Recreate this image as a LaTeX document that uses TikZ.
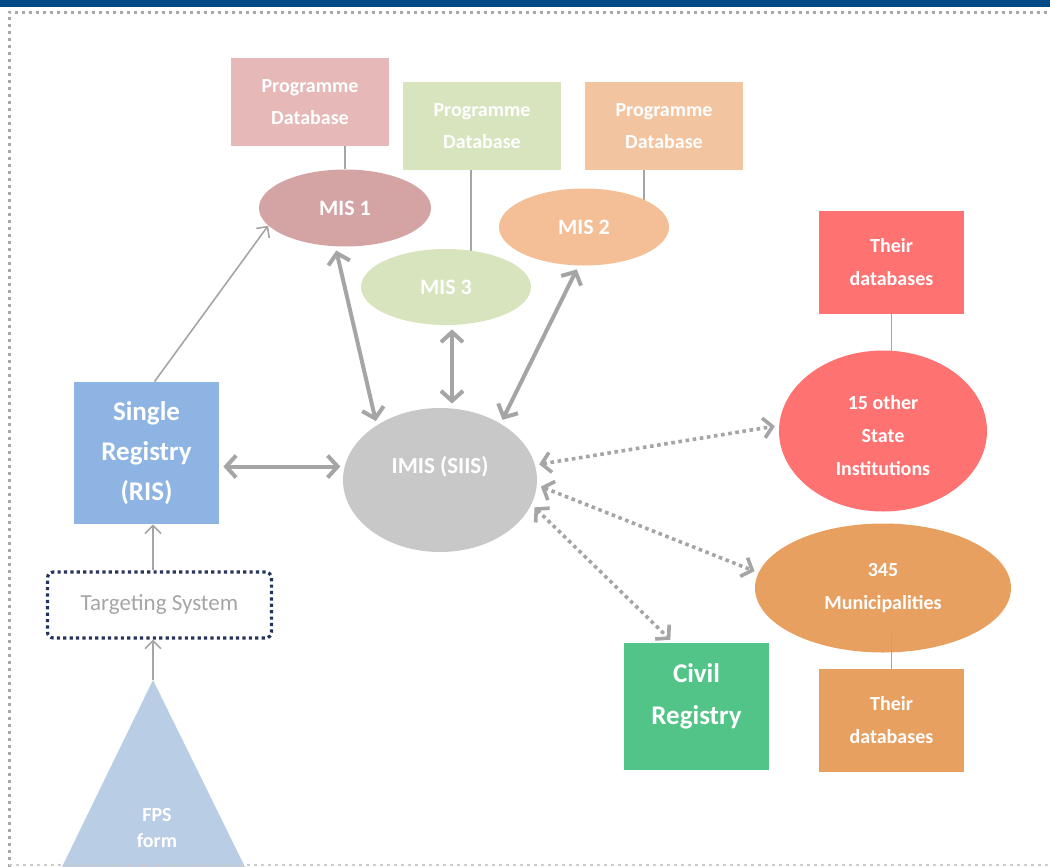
\documentclass[tikz,border=0pt]{standalone}
\usepackage{fontspec}
\setmainfont{Carlito}
\usetikzlibrary{shapes.geometric,arrows.meta,backgrounds}

\definecolor{topblue}{RGB}{0,74,135}
\definecolor{framegray}{RGB}{168,168,168}
\definecolor{arrowgray}{RGB}{165,165,165}
\definecolor{dbpink}{RGB}{230,184,183}
\definecolor{mispink}{RGB}{212,164,164}
\definecolor{dbgreen}{RGB}{215,228,189}
\definecolor{dborange}{RGB}{242,196,160}
\definecolor{misorange}{RGB}{244,190,150}
\definecolor{risblue}{RGB}{141,180,226}
\definecolor{fpsblue}{RGB}{185,205,229}
\definecolor{targetnavy}{RGB}{37,52,92}
\definecolor{imisgray}{RGB}{200,200,200}
\definecolor{statered}{RGB}{255,114,114}
\definecolor{munorange}{RGB}{232,160,96}
\definecolor{civilgreen}{RGB}{82,196,136}

\tikzset{
  box/.style={rectangle, inner sep=0pt, align=center, text=white},
  oval/.style={ellipse, inner sep=0pt, align=center, text=white},
  link/.style={draw=arrowgray, line width=0.75pt},
  thinarrow/.style={draw=arrowgray, line width=0.8pt, -{Straight Barb[length=4pt,width=8pt]}},
  bigarrow/.style={draw=arrowgray, line width=2pt,
    {Straight Barb[length=5pt,width=11pt]}-{Straight Barb[length=5pt,width=11pt]},
    shorten <=2pt, shorten >=2pt},
  dotarrow/.style={draw=arrowgray, line width=1.8pt, dash pattern=on 1.8pt off 1.8pt,
    {Straight Barb[length=4.5pt,width=10pt]}-{Straight Barb[length=4.5pt,width=10pt]},
    shorten <=2pt, shorten >=2pt}
}

\begin{document}
\begin{tikzpicture}[x=0.5pt, y=-0.5pt]
\useasboundingbox (0,0) rectangle (1050,867);

\fill[topblue] (0,0) rectangle (1050,7);

% FPS form
\fill[fpsblue] (153,680) -- (62,867) -- (245,867) -- cycle;
\coordinate (fpstop) at (153,680);
\node[box, font=\bfseries\fontsize{10}{13}\selectfont] (fps) at (157,828) {FPS\\form};

% frame
\draw[framegray, line width=1.5pt, dash pattern=on 1.5pt off 2pt] (9,867) -- (9,12) -- (1050,12);
\draw[framegray!60, line width=1pt, dash pattern=on 1.5pt off 2pt] (9,865) -- (1050,865);

% programme databases and MIS
\foreach \name/\x/\y/\col in {db1/310/102/dbpink, db2/482/126/dbgreen, db3/664/126/dborange}
  \node[box, fill=\col, minimum width=79pt, minimum height=44pt,
        font=\bfseries\fontsize{10}{16}\selectfont] (\name) at (\x,\y) {Programme\\Database};

\node[oval, fill=mispink, minimum width=86pt, minimum height=38.5pt,
      font=\bfseries\fontsize{11}{13}\selectfont] (mis1) at (345,208) {MIS 1};
\node[oval, fill=dbgreen, minimum width=85pt, minimum height=38pt,
      font=\bfseries\fontsize{11}{13}\selectfont] (mis3) at (446,287) {MIS 3};
\node[oval, fill=misorange, minimum width=85pt, minimum height=38.5pt,
      font=\bfseries\fontsize{11}{13}\selectfont] (mis2) at (584,227) {MIS 2};

% left column
\node[box, fill=risblue, minimum width=72.5pt, minimum height=71pt,
      font=\bfseries\fontsize{13.5}{20}\selectfont] (sr) at (146.5,453) {Single\\Registry\\(RIS)};
\node[rectangle, draw=targetnavy, line width=1.6pt, dash pattern=on 1.6pt off 1.6pt,
      rounded corners=3pt, minimum width=112pt, minimum height=33pt, text=arrowgray,
      font=\fontsize{11.5}{13}\selectfont] (target) at (159.5,605) {Targeting System};

% centre
\node[oval, fill=imisgray, minimum width=97pt, minimum height=72pt, text height=8pt, text depth=15pt,
      font=\bfseries\fontsize{11.5}{13}\selectfont] (imis) at (440,480) {IMIS (SIIS)};

% right side
\node[box, fill=statered, minimum width=72.5pt, minimum height=51.5pt,
      font=\bfseries\fontsize{10}{16.5}\selectfont] (db4) at (891.5,262.5) {Their\\databases};
\node[oval, fill=statered, minimum width=104pt, minimum height=80.5pt, text height=45pt,
      font=\bfseries\fontsize{10}{16.5}\selectfont] (inst) at (883,431) {15 other\\State\\Institutions};
\node[oval, fill=munorange, minimum width=128pt, minimum height=64.5pt,
      font=\bfseries\fontsize{10}{16.5}\selectfont] (mun) at (883,588) {345\\Municipalities};
\node[box, fill=munorange, minimum width=72.5pt, minimum height=51.5pt,
      font=\bfseries\fontsize{10}{16.5}\selectfont] (db5) at (891.5,720.5) {Their\\databases};
\node[box, fill=civilgreen, minimum width=72.5pt, minimum height=63.5pt, text depth=12pt,
      font=\bfseries\fontsize{13.5}{21}\selectfont] (civil) at (696.5,706.5) {Civil\\Registry};

\begin{scope}[on background layer]
\draw[link] (db1.south -| mis1) -- (mis1);
\draw[link] ([xshift=-5.5pt]db2.south) -- ([xshift=-5.5pt]db2.south |- mis3.center);
\draw[link] ([xshift=-10pt]db3.south) -- ([xshift=-10pt]db3.south |- mis2.center);
\draw[link] (db4.south) -- (db4.south |- inst.center);
\end{scope}

\coordinate (munlow) at ([yshift=10pt]mun.south);
\draw[link] (db5.north) -- (db5.north |- munlow);

% thin arrows
\draw[thinarrow] ([xshift=4pt]sr.north) -- (mis1.193);
\draw[thinarrow] (target.north -| fpstop) -- (sr.south -| fpstop);
\draw[thinarrow] (fpstop) -- (target.south -| fpstop);

% thick arrows
\draw[bigarrow] (sr.east |- imis.172) -- (imis.172);
\draw[bigarrow] (mis1.256) -- (imis.139);
\draw[bigarrow] ([xshift=3pt]mis3.south) -- ([xshift=3pt]mis3.south |- imis.north);
\draw[bigarrow] (mis2.262) -- (imis.43);

% dotted arrows
\draw[dotarrow] (imis.9) -- (inst.177);
\draw[dotarrow] (imis.-3) -- (mun.173);
\draw[dotarrow] (imis.-15) -- (civil.110);

\end{tikzpicture}
\end{document}
